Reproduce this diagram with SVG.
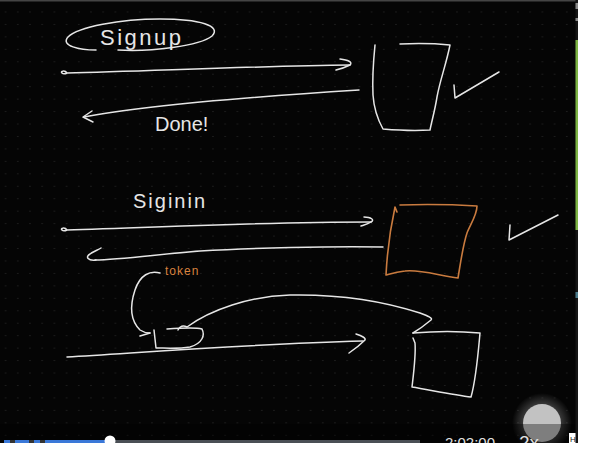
<svg xmlns="http://www.w3.org/2000/svg" width="595" height="470" viewBox="0 0 595 470">
<defs>
<pattern id="dots" patternUnits="userSpaceOnUse" width="12.2" height="12.45">
<circle cx="5.6" cy="12.3" r="0.7" fill="#2c2c2c"/>
</pattern>
<radialGradient id="glow" cx="0.5" cy="0.5" r="0.5">
<stop offset="0.55" stop-color="#ffffff" stop-opacity="0.25"/>
<stop offset="1" stop-color="#ffffff" stop-opacity="0"/>
</radialGradient>
<style>
.ink{fill:none;stroke:#e6e6e6;stroke-width:1.5;stroke-linecap:round;stroke-linejoin:round}
.orange{fill:none;stroke:#c97b3f;stroke-width:1.6;stroke-linecap:round;stroke-linejoin:round}
.hand{font-family:"Liberation Sans","DejaVu Sans",sans-serif;fill:#e6e6e6}
.ui{font-family:"Liberation Sans","DejaVu Sans",sans-serif;fill:#e0e0e0}
</style>
</defs>
<rect x="0" y="0" width="595" height="470" fill="#050505"/>
<rect x="0" y="0" width="576" height="443" fill="url(#dots)"/>
<rect x="0" y="0" width="576" height="1.5" fill="#444"/>

<g id="signup">
<path class="ink" d="M118,50 C150,52 200,46 212,36 C222,26 200,19 160,19 C120,19 78,27 68,37 C60,46 80,50 96,50"/>
<text class="hand" x="100" y="45" font-size="22" letter-spacing="2.5">Signup</text>
</g>

<g id="db1">
<path class="ink" d="M400,44 C420,43 440,44 450,45 C446,65 440,80 437,97 C435,110 432,120 430,130 C415,131 395,130 383,129 C378,120 374,110 373,95 C372,75 374,55 375,45"/>
</g>
<g id="check1">
<path class="ink" d="M454,85 L455,98 L499,72"/>
</g>
<g id="done">
<text class="hand" x="155" y="131" font-size="20">Done!</text>
</g>

<g id="signin">
<text class="hand" x="133" y="208" font-size="20" letter-spacing="2">Siginin</text>
</g>
<g id="box2">
<path class="orange" d="M400,205 C430,204 460,205 477,206 C477,215 470,225 467,233 C463,245 461,260 458,278 C440,276 420,269 405,271 C395,272 390,274 386,275 C387,255 390,230 395,207 L397,212"/>
</g>
<g id="check2">
<path class="ink" d="M510,225 L509,240 L558,215"/>
</g>
<g id="token">
<text x="165" y="275" font-size="12" letter-spacing="1" font-family="Liberation Sans, DejaVu Sans, sans-serif" fill="#d9823f">token</text>
</g>
<g id="client">
<path class="ink" d="M167,329 C180,328 195,327 202,329 C205,335 203,343 190,347 C178,349 165,348 156,348 L154,330"/>
</g>
<g id="box3">
<path class="ink" d="M413,333 C435,331 460,331 480,333 C478,355 476,380 471,397 C455,395 430,390 412,387 C414,370 416,355 415,343 L413,338"/>
</g>

<g id="connectors">
<path class="ink" d="M67,73 C65,70 60,71 62,73 C63,74 65,74 67,73 C150,71 260,66 350,65"/>
<path class="ink" d="M340,59 C348,60 353,62 350,65 C346,67 340,69 336,70"/>
<path class="ink" d="M359,90 C280,95 150,104 84,117"/>
<path class="ink" d="M92,111 L83,117 L93,122"/>
<path class="ink" d="M67,230 C65,227 60,228 62,230 C63,231 65,231 67,230 C150,228 250,222 371,222"/>
<path class="ink" d="M364,217 C371,217 375,220 371,222 C368,224 364,225 361,226"/>
<path class="ink" d="M383,247 C330,246 250,248 200,251 C160,254 120,260 95,260"/>
<path class="ink" d="M96,260 C88,261 85,257 90,254 C94,251 98,250 101,248"/>
<path class="ink" d="M160,273 C150,270 140,275 135,290 C130,305 130,320 140,330 C143,332 146,333 150,333"/>
<path class="ink" d="M140,336 L150,333"/>
<path class="ink" d="M178,330 C180,326 183,325 187,327 C210,310 250,296 290,295 C340,294 380,300 420,313 C428,316 433,318 431,320 C425,325 418,330 413,333"/>
<path class="ink" d="M67,357 C150,352 250,344 363,341"/>
<path class="ink" d="M356,334 C362,336 366,338 365,340 C360,345 355,349 349,353"/>
</g>

<g id="player">
<circle cx="542" cy="423" r="30" fill="url(#glow)"/>
<circle cx="542" cy="423" r="19" fill="#c2c2c2"/>
<rect x="0" y="424" width="576" height="19" fill="#000" opacity="0.35"/>
<rect x="4" y="440" width="6" height="3" fill="#3a78d8"/>
<rect x="10" y="440" width="5" height="3" fill="#333"/>
<rect x="15" y="440" width="14" height="3" fill="#3a78d8"/>
<rect x="29" y="440" width="5" height="3" fill="#333"/>
<rect x="34" y="440" width="6" height="3" fill="#3a78d8"/>
<rect x="40" y="440" width="5" height="3" fill="#333"/>
<rect x="45" y="440" width="65" height="3" fill="#3a78d8"/>
<rect x="110" y="440" width="310" height="3" fill="#4a4f55"/>
<circle cx="110" cy="441" r="5.5" fill="#fff"/>
<text class="ui" x="440" y="448" font-size="15">-2:02:00</text>
<text class="ui" x="519" y="449" font-size="19">2x</text>
<rect x="569" y="433" width="7" height="10" fill="#fff"/>
<text x="570" y="442" font-size="8" font-family="Liberation Sans, sans-serif" fill="#222">H</text>
</g>

<rect x="0" y="443" width="595" height="27" fill="#fff"/>
<rect x="578" y="0" width="17" height="443" fill="#fff"/>
<rect x="575.5" y="0" width="2.5" height="443" fill="#151515"/>
<rect x="575.5" y="3" width="2.5" height="6" fill="#888"/>
<rect x="575.5" y="18" width="2.5" height="3" fill="#888"/>
<rect x="575.5" y="40" width="2.5" height="190" fill="#7db343"/>
<rect x="575.5" y="292" width="2.5" height="6" fill="#4a7a8a"/>
</svg>
